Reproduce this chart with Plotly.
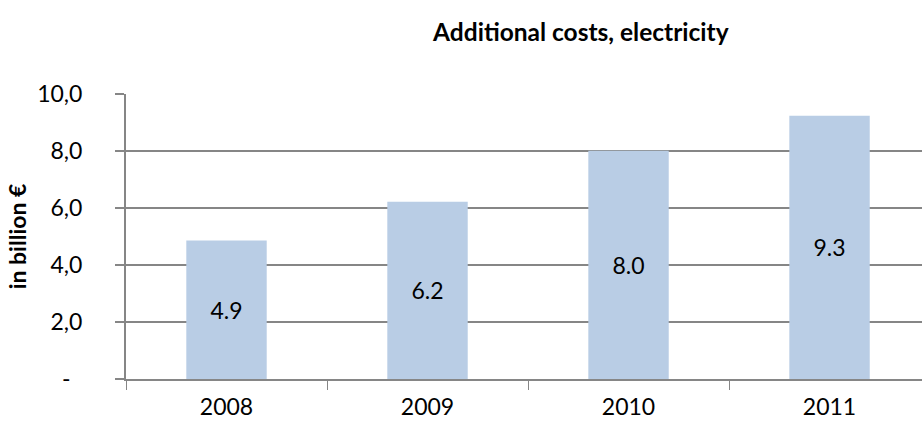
import plotly.graph_objects as go

years = ["2008", "2009", "2010", "2011"]
costs = [4.86, 6.22, 8.01, 9.24]
cost_labels = ["4.9", "6.2", "8.0", "9.3"]
y_tick_vals = [0, 2, 4, 6, 8, 10]
y_tick_text = ["-  ", "2,0", "4,0", "6,0", "8,0", "10,0"]

FONT = "Lato, Carlito, Calibri, sans-serif"
GRID = "#868686"

fig = go.Figure(
    go.Bar(
        x=years,
        y=costs,
        text=cost_labels,
        textposition="inside",
        insidetextanchor="middle",
        textfont=dict(family=FONT, size=23, color="black"),
        marker=dict(color="#B9CDE5", line=dict(width=0)),
        width=0.4,
        hoverinfo="skip",
    )
)

fig.update_layout(
    width=922,
    height=428,
    margin=dict(l=126, r=0, t=94, b=49),
    paper_bgcolor="white",
    plot_bgcolor="white",
    showlegend=False,
    font=dict(family=FONT, size=23, color="black"),
    title=dict(
        text="<b>Additional costs, electricity</b>",
        font=dict(family=FONT, size=24.5, color="black"),
        x=0.63,
        xanchor="center",
        y=0.925,
        yanchor="middle",
    ),
)

fig.update_xaxes(
    type="category",
    range=[-0.5, 3.46],
    automargin=False,
    showline=True,
    linecolor=GRID,
    linewidth=2,
    ticks="outside",
    tickson="boundaries",
    ticklen=9,
    tickcolor=GRID,
    tickwidth=1,
    showgrid=False,
    tickfont=dict(family=FONT, size=23),
    ticklabelstandoff=6,
)

fig.update_yaxes(
    range=[0, 10],
    automargin=False,
    tickvals=y_tick_vals,
    ticktext=y_tick_text,
    showline=True,
    linecolor=GRID,
    linewidth=2,
    ticks="outside",
    ticklen=9,
    tickcolor=GRID,
    tickwidth=2,
    showgrid=True,
    gridcolor=GRID,
    gridwidth=2,
    zeroline=False,
    tickfont=dict(family=FONT, size=23),
    ticklabelstandoff=28,
    title=dict(text="<b>in billion €</b>", font=dict(family=FONT, size=23), standoff=4),
)

fig.write_html(
    "out.html",
    config={"displayModeBar": False},
    post_script="document.body.style.margin='0';document.body.style.overflow='hidden';",
)
